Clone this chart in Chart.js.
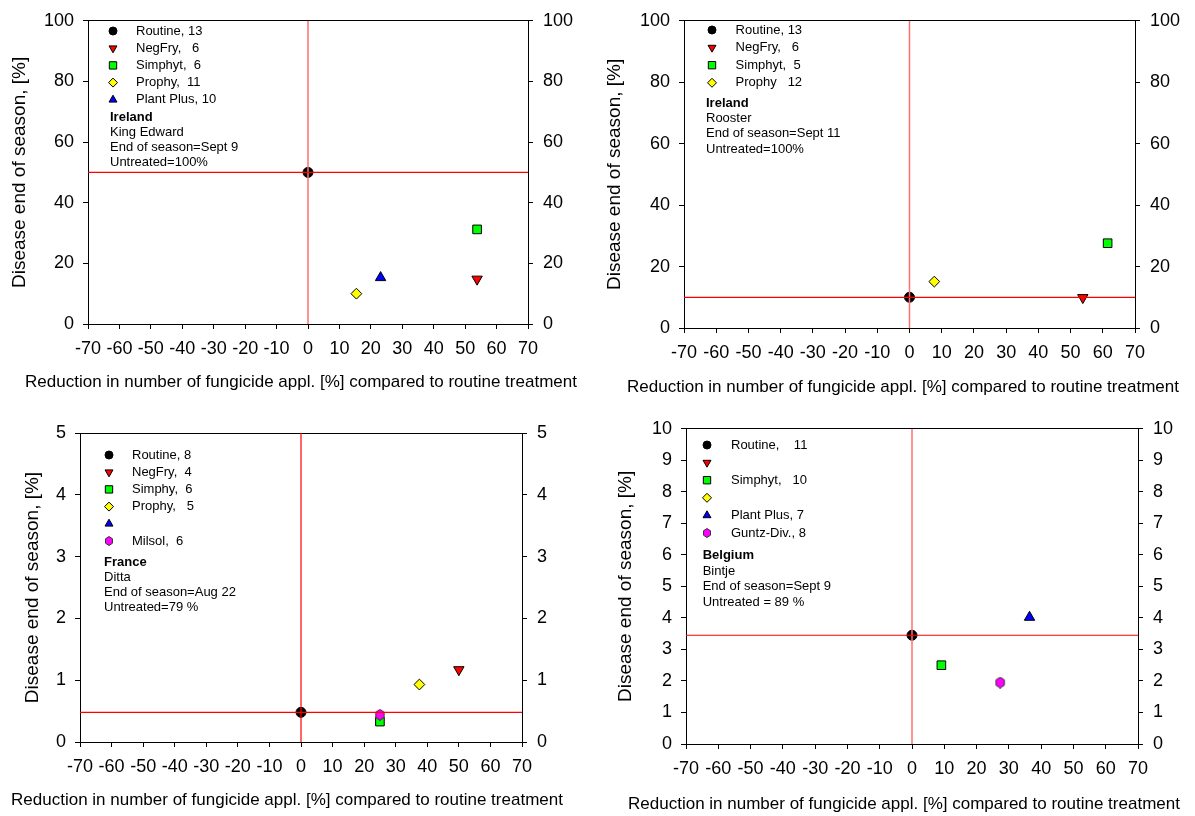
<!DOCTYPE html>
<html>
<head>
<meta charset="utf-8">
<script src="https://cdn.jsdelivr.net/npm/chart.js@4/dist/chart.umd.min.js"></script>
<style>
  body { margin: 0; background: #fff; }
  #wrap { position: relative; width: 1195px; height: 816px; }
  canvas { position: absolute; }
</style>
</head>
<body>
<div id="wrap">
  <canvas id="kingEdward" width="597" height="408" style="left:0;top:0"></canvas>
  <canvas id="rooster" width="598" height="408" style="left:597px;top:0"></canvas>
  <canvas id="ditta" width="597" height="408" style="left:0;top:408px"></canvas>
  <canvas id="bintje" width="598" height="408" style="left:597px;top:408px"></canvas>
</div>
<script>
// tick values
const xTickValues = [-70, -60, -50, -40, -30, -20, -10, 0, 10, 20, 30, 40, 50, 60, 70];
const yTicksIreland = [0, 20, 40, 60, 80, 100];
const yTicksFrance = [0, 1, 2, 3, 4, 5];
const yTicksBelgium = [0, 1, 2, 3, 4, 5, 6, 7, 8, 9, 10];

const xTitle = 'Reduction in number of fungicide appl. [%] compared to routine treatment';
const yTitle = 'Disease end of season, [%]';

// Ireland - King Edward
const kingEdwardKinds = ['routine', 'negfry', 'simphyt', 'prophy', 'plantplus'];
const kingEdwardLabels = ['Routine, 13', 'NegFry,   6', 'Simphyt,  6', 'Prophy,  11', 'Plant Plus, 10'];
const kingEdwardX = [0, 53.8, 53.8, 15.4, 23.1];
const kingEdwardY = [50, 14.8, 31.2, 10, 15.3];
const kingEdwardInfo = ['Ireland', 'King Edward', 'End of season=Sept 9', 'Untreated=100%'];

// Ireland - Rooster
const roosterKinds = ['routine', 'negfry', 'simphyt', 'prophy'];
const roosterLabels = ['Routine, 13', 'NegFry,   6', 'Simphyt,  5', 'Prophy   12'];
const roosterX = [0, 53.8, 61.5, 7.7];
const roosterY = [10, 9.9, 27.6, 15.1];
const roosterInfo = ['Ireland', 'Rooster', 'End of season=Sept 11', 'Untreated=100%'];

// France - Ditta
const dittaKinds = ['routine', 'negfry', 'simphyt', 'prophy', 'plantplus', 'hexagon'];
const dittaLabels = ['Routine, 8', 'NegFry,  4', 'Simphy,  6', 'Prophy,   5', '', 'Milsol,  6'];
const dittaX = [0, 50, 25, 37.5, null, 25];
const dittaY = [0.48, 1.17, 0.33, 0.93, null, 0.44];
const dittaInfo = ['France', 'Ditta', 'End of season=Aug 22', 'Untreated=79 %'];

// Belgium - Bintje
const bintjeKinds = ['routine', 'negfry', 'simphyt', 'prophy', 'plantplus', 'hexagon'];
const bintjeLabels = ['Routine,    11', '', 'Simphyt,   10', '', 'Plant Plus, 7', 'Guntz-Div., 8'];
const bintjeX = [0, null, 9.1, null, 36.4, 27.3];
const bintjeY = [3.45, null, 2.5, null, 4.02, 1.95];
const bintjeInfo = ['Belgium', 'Bintje', 'End of season=Sept 9', 'Untreated = 89 %'];

const FONT = '"Liberation Sans", Arial, Helvetica, sans-serif';
Chart.defaults.font.family = FONT;
Chart.defaults.color = '#000';

// hexagon marker (no built-in point style for it)
function makeHex(size, rx, ry) {
  const cv = document.createElement('canvas');
  cv.width = size; cv.height = size;
  const c = cv.getContext('2d');
  const m = size / 2;
  c.beginPath();
  for (let k = 0; k < 6; k++) {
    const a = Math.PI / 2 + k * Math.PI / 3;
    const px = m + rx * Math.cos(a), py = m - ry * Math.sin(a);
    if (k === 0) c.moveTo(px, py); else c.lineTo(px, py);
  }
  c.closePath();
  c.fillStyle = '#ff00ff';
  c.fill();
  c.strokeStyle = '#333';
  c.lineWidth = 1;
  c.stroke();
  return cv;
}
const hexPlot = makeHex(12, 4.8, 5.4);
const hexLegend = makeHex(10, 4, 4.5);

const markerStyle = {
  routine:   { pointStyle: 'circle',   radius: 5,   legendRadius: 4,   rotation: 0,   color: '#000000' },
  negfry:    { pointStyle: 'triangle', radius: 6,   legendRadius: 4.6, rotation: 180, color: '#ff0000' },
  simphyt:   { pointStyle: 'rect',     radius: 6.1, legendRadius: 5.2, rotation: 0,   color: '#00ff00' },
  prophy:    { pointStyle: 'rectRot',  radius: 5.4, legendRadius: 4.5, rotation: 0,   color: '#ffff00' },
  plantplus: { pointStyle: 'triangle', radius: 6,   legendRadius: 4.6, rotation: 0,   color: '#0000ff' },
  hexagon:   { pointStyle: hexPlot, legendStyle: hexLegend, radius: 5, legendRadius: 4, rotation: 0, color: '#ff00ff' }
};

// legend, site text and x title drawn inside the panel
const panelText = {
  id: 'panelText',
  afterDatasetsDraw(chart) {
    const o = chart.config.options.panel;
    const ctx = chart.ctx;
    ctx.save();
    ctx.textBaseline = 'middle';
    let row = 0;
    chart.data.datasets.forEach(ds => {
      if (ds.guide) return;
      const st = markerStyle[ds.kind];
      const y = o.rowY + row * o.rowStep;
      ctx.fillStyle = st.color;
      ctx.strokeStyle = '#000';
      ctx.lineWidth = 1;
      Chart.helpers.drawPoint(ctx, {
        pointStyle: st.legendStyle || st.pointStyle, radius: st.legendRadius,
        rotation: st.rotation, borderWidth: 1
      }, o.markX, y);
      ctx.fillStyle = '#000';
      ctx.font = '13px ' + FONT;
      ctx.fillText(ds.label, o.textX, y);
      row++;
    });
    o.info.forEach((line, i) => {
      ctx.font = (i === 0 ? 'bold ' : '') + '13px ' + FONT;
      ctx.fillText(line, o.infoX, o.infoY + i * o.infoStep);
    });
    ctx.font = '17px ' + FONT;
    ctx.textAlign = 'center';
    ctx.fillText(xTitle, o.xTitleX, o.xTitleY);
    ctx.restore();
  }
};

function buildPanel(id, kinds, labels, xs, ys, info, yTicks, g) {
  const yMin = yTicks[0], yMax = yTicks[yTicks.length - 1];
  const datasets = kinds.map((k, i) => {
    const st = markerStyle[k];
    return {
      kind: k,
      label: labels[i],
      data: xs[i] === null ? [] : [{ x: xs[i], y: ys[i] }],
      pointStyle: st.pointStyle,
      pointRadius: st.radius,
      pointRotation: st.rotation,
      pointBackgroundColor: st.color,
      pointBorderColor: '#000',
      pointBorderWidth: 1,
      showLine: false,
      order: 20 - i
    };
  });
  // red reference lines through the routine treatment
  datasets.push({
    guide: true, showLine: true, pointRadius: 0, borderWidth: g.vWidth,
    borderColor: g.vColor, order: 1,
    data: [{ x: xs[0], y: yMin }, { x: xs[0], y: yMax }]
  });
  datasets.push({
    guide: true, showLine: true, pointRadius: 0, borderWidth: 1.2,
    borderColor: '#ff0000', order: 0,
    data: [{ x: xTickValues[0], y: ys[0] }, { x: xTickValues[xTickValues.length - 1], y: ys[0] }]
  });

  const tickGrid = { display: true, drawOnChartArea: false, drawTicks: true, tickLength: 5, color: '#000' };
  const border = { display: true, color: '#000', width: 1 };

  new Chart(document.getElementById(id), {
    type: 'scatter',
    data: { datasets },
    plugins: [panelText],
    options: {
      responsive: false,
      animation: false,
      events: [],
      layout: { padding: 0 },
      plugins: { legend: { display: false }, tooltip: { enabled: false } },
      panel: Object.assign({ info }, g.legend),
      scales: {
        x: {
          type: 'linear', position: 'bottom', min: xTickValues[0], max: xTickValues[xTickValues.length - 1],
          afterBuildTicks: s => { s.ticks = xTickValues.map(v => ({ value: v })); },
          afterFit: s => { s.height = g.bottomH; },
          grid: tickGrid, border,
          ticks: { color: '#000', font: { size: 18 }, padding: 9, autoSkip: false, maxRotation: 0, minRotation: 0 },
          title: { display: false }
        },
        x2: {
          type: 'linear', position: 'top', min: xTickValues[0], max: xTickValues[xTickValues.length - 1],
          afterFit: s => { s.height = g.top; },
          grid: { display: false }, border,
          ticks: { display: false }
        },
        y: {
          type: 'linear', position: 'left', min: yMin, max: yMax,
          afterBuildTicks: s => { s.ticks = yTicks.map(v => ({ value: v })); },
          afterFit: s => { s.width = g.left; },
          grid: tickGrid, border,
          ticks: { color: '#000', font: { size: 18 }, padding: 9 },
          title: { display: true, text: yTitle, color: '#000', font: { size: 19 }, padding: { top: g.yTitlePad, bottom: 0 } }
        },
        y2: {
          type: 'linear', position: 'right', min: yMin, max: yMax,
          afterBuildTicks: s => { s.ticks = yTicks.map(v => ({ value: v })); },
          afterFit: s => { s.width = g.rightW; },
          grid: tickGrid, border,
          ticks: { color: '#000', font: { size: 18 }, padding: 10 }
        }
      }
    }
  });
}

buildPanel('kingEdward', kingEdwardKinds, kingEdwardLabels, kingEdwardX, kingEdwardY, kingEdwardInfo, yTicksIreland, {
  left: 88, rightW: 69, top: 17, bottomH: 84, yTitlePad: 8, vColor: '#ff7070', vWidth: 1.5,
  legend: { markX: 113, textX: 136, rowY: 31, rowStep: 17.2, infoX: 110, infoY: 117.3, infoStep: 15,
            xTitleX: 301, xTitleY: 382 }
});
buildPanel('rooster', roosterKinds, roosterLabels, roosterX, roosterY, roosterInfo, yTicksIreland, {
  left: 87, rightW: 60, top: 13, bottomH: 80, yTitlePad: 6.6, vColor: '#ff7070', vWidth: 1.5,
  legend: { markX: 115, textX: 138.6, rowY: 30, rowStep: 17.6, infoX: 109, infoY: 103.3, infoStep: 15.3,
            xTitleX: 306, xTitleY: 387 }
});
buildPanel('ditta', dittaKinds, dittaLabels, dittaX, dittaY, dittaInfo, yTicksFrance, {
  left: 80, rightW: 75, top: 25, bottomH: 74, yTitlePad: 21.6, vColor: '#ff0000', vWidth: 1.2,
  legend: { markX: 109, textX: 132, rowY: 47, rowStep: 17.2, infoX: 104, infoY: 154.3, infoStep: 15,
            xTitleX: 287, xTitleY: 392 }
});
buildPanel('bintje', bintjeKinds, bintjeLabels, bintjeX, bintjeY, bintjeInfo, yTicksBelgium, {
  left: 89, rightW: 57, top: 19, bottomH: 72, yTitlePad: 17.6, vColor: '#ff7070', vWidth: 1.5,
  legend: { markX: 110, textX: 134, rowY: 37, rowStep: 17.6, infoX: 105.7, infoY: 147.7, infoStep: 15.5,
            xTitleX: 307, xTitleY: 396 }
});
</script>
</body>
</html>
